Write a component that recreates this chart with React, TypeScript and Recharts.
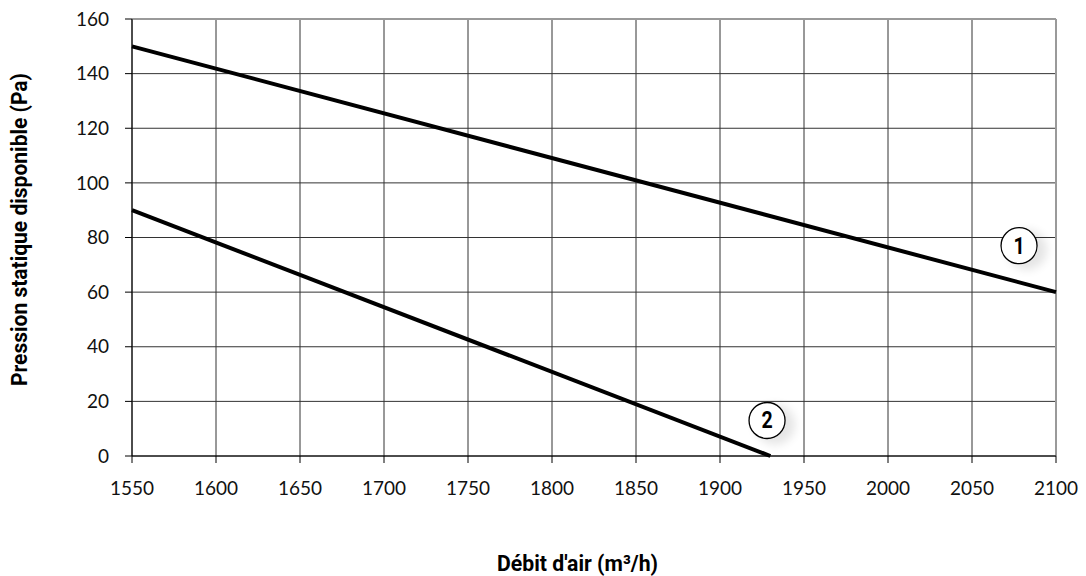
import {
  LineChart,
  Line,
  XAxis,
  YAxis,
  CartesianGrid,
  ReferenceLine,
  ReferenceDot,
} from 'recharts';

// Débit d'air (m³/h) vs pression statique disponible (Pa)
const curve1 = [
  { debit: 1550, pression: 150 },
  { debit: 2100, pression: 60 },
];
const curve2 = [
  { debit: 1550, pression: 90 },
  { debit: 1930, pression: 0 },
];
const xTicks = [1550, 1600, 1650, 1700, 1750, 1800, 1850, 1900, 1950, 2000, 2050, 2100];
const yTicks = [0, 20, 40, 60, 80, 100, 120, 140, 160];

// circled curve markers
const markers = [
  { id: '1', debit: 2078, pression: 77 },
  { id: '2', debit: 1928, pression: 13 },
];

const TICK_FONT = 'Lato, "DejaVu Sans", sans-serif';
const TITLE_FONT = 'Roboto, "Liberation Sans", sans-serif';

function CircleMarker(props: any) {
  const { cx, cy, text } = props;
  return (
    <g>
      <circle cx={cx + 8} cy={cy + 4} r={20} fill="#000" opacity={0.1} filter="url(#soft)" />
      <circle cx={cx} cy={cy} r={18} fill="#fff" stroke="#000" strokeWidth={1.3} />
      <text
        x={cx}
        y={cy + 8}
        textAnchor="middle"
        fontFamily={TITLE_FONT}
        fontWeight="bold"
        fontSize={23}
        transform={`translate(${cx} 0) scale(0.85 1) translate(${-cx} 0)`}
        fill="#000"
      >
        {text}
      </text>
    </g>
  );
}

// condensed bold titles (squeezed to the reference width)
function XTitle() {
  return (
    <text
      x={497}
      y={571}
      textLength={161}
      lengthAdjust="spacingAndGlyphs"
      fontFamily={TITLE_FONT}
      fontWeight="bold"
      fontSize={22}
      fill="#000"
    >
      Débit d'air (m³/h)
    </text>
  );
}

function YTitle() {
  return (
    <text
      x={0}
      y={0}
      transform="translate(27 386) rotate(-90)"
      textLength={313}
      lengthAdjust="spacingAndGlyphs"
      fontFamily={TITLE_FONT}
      fontWeight="bold"
      fontSize={22}
      fill="#000"
    >
      Pression statique disponible (Pa)
    </text>
  );
}

export default function App() {
  return (
    <div style={{ position: 'absolute', left: 0, top: 0, background: '#fff' }}>
      <LineChart
        width={1086}
        height={576}
        margin={{ top: 19, right: 30, bottom: 0, left: 0 }}
      >
        <defs>
          <filter id="soft" x="-50%" y="-50%" width="200%" height="200%">
            <feGaussianBlur stdDeviation="5" />
          </filter>
        </defs>
        <CartesianGrid stroke="#333" strokeWidth={1} />
        <XAxis
          dataKey="debit"
          type="number"
          domain={[1550, 2100]}
          ticks={xTicks}
          height={120}
          allowDuplicatedCategory={false}
          stroke="#000"
          tickSize={7}
          tickMargin={19}
          tick={{ fontFamily: TICK_FONT, fontSize: 19, fill: '#111' }}
          label={{ content: () => <XTitle /> }}
        />
        <YAxis
          type="number"
          domain={[0, 160]}
          ticks={yTicks}
          width={132}
          stroke="#000"
          tickSize={7}
          tickMargin={16}
          tick={{ fontFamily: TICK_FONT, fontSize: 19, fill: '#111' }}
          label={{ content: () => <YTitle /> }}
        />
        <ReferenceLine y={160} stroke="#9a9a9a" strokeWidth={2} />
        <ReferenceLine x={2100} stroke="#9a9a9a" strokeWidth={2} />
        <Line
          data={curve1}
          dataKey="pression"
          type="linear"
          stroke="#000"
          strokeWidth={4}
          dot={false}
          isAnimationActive={false}
        />
        <Line
          data={curve2}
          dataKey="pression"
          type="linear"
          stroke="#000"
          strokeWidth={4}
          dot={false}
          isAnimationActive={false}
        />
        {markers.map((m) => (
          <ReferenceDot
            key={m.id}
            x={m.debit}
            y={m.pression}
            r={18}
            shape={(p: any) => <CircleMarker {...p} text={m.id} />}
          />
        ))}
      </LineChart>
    </div>
  );
}
